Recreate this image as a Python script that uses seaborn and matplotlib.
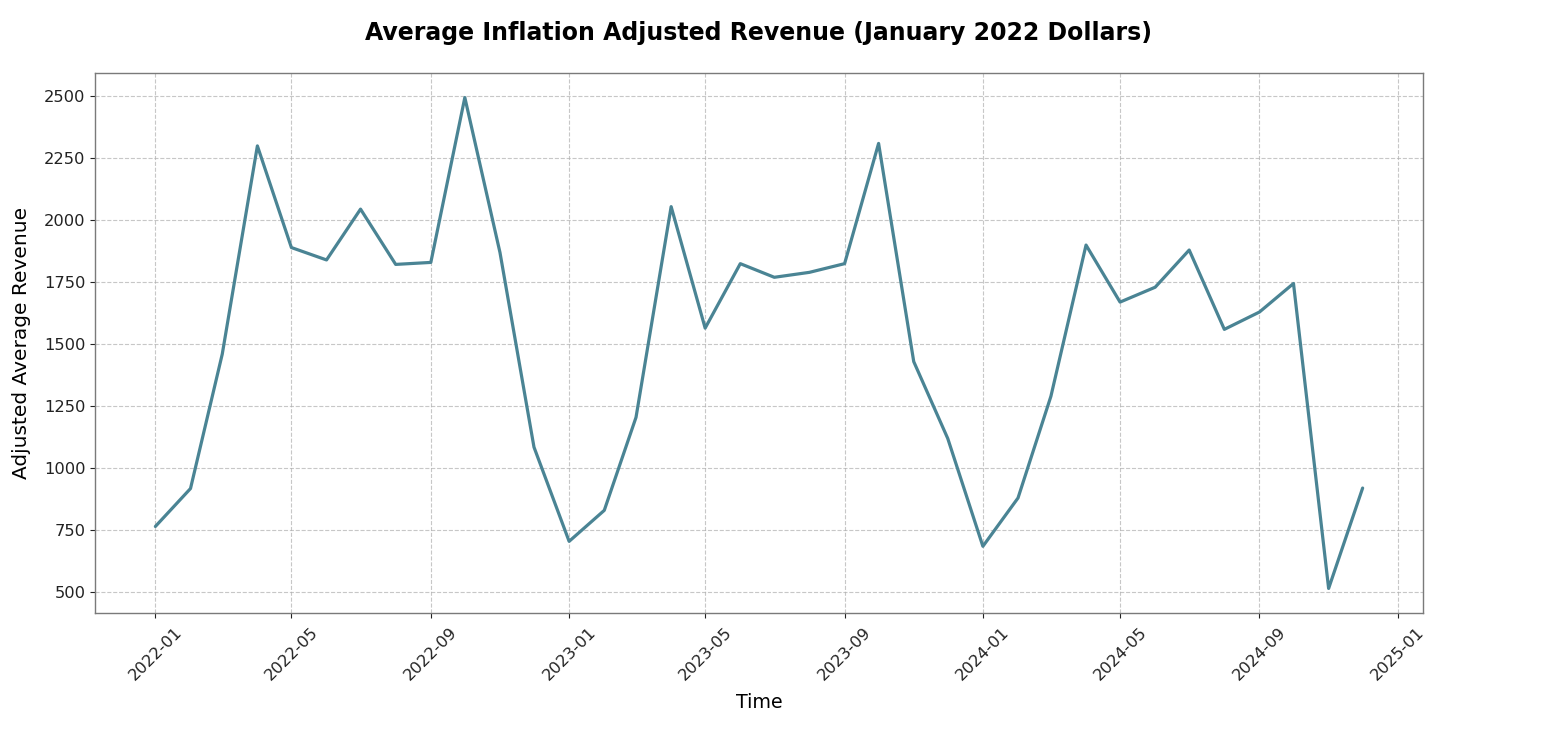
import matplotlib
matplotlib.use("Agg")
import matplotlib.pyplot as plt
import matplotlib.dates as mdates
import seaborn as sns
import pandas as pd

months = pd.date_range("2022-01-01", "2024-12-01", freq="MS")
revenue = [765, 918, 1460, 2300, 1890, 1840, 2045, 1822, 1830, 2495, 1870, 1085,
           705, 830, 1205, 2055, 1565, 1825, 1770, 1790, 1825, 2310, 1430, 1120,
           685, 880, 1290, 1900, 1670, 1730, 1880, 1560, 1630, 1745, 515, 920]

df = pd.DataFrame({"Time": months, "Adjusted Average Revenue": revenue})

sns.set_style("ticks")
plt.rcParams['font.family'] = ['DejaVu Sans']
plt.rcParams['text.color'] = 'black'
plt.rcParams['axes.labelcolor'] = 'black'
plt.rcParams['xtick.color'] = 'black'
plt.rcParams['ytick.color'] = 'black'

fig = plt.figure(figsize=(15.46, 7.54), dpi=100)
ax = fig.add_axes([95/1546, 1 - 613/754, (1423-95)/1546, (613-73)/754])

sns.lineplot(data=df, x="Time", y="Adjusted Average Revenue", ax=ax,
             color="#4a8494", linewidth=2.3)

ax.xaxis.set_major_locator(mdates.MonthLocator(bymonth=[1, 5, 9]))
ax.xaxis.set_major_formatter(mdates.DateFormatter("%Y-%m"))
ax.set_yticks([500, 750, 1000, 1250, 1500, 1750, 2000, 2250, 2500])
plt.setp(ax.get_xticklabels(), rotation=45)
ax.tick_params(labelsize=11.7, colors="#222222")
ax.tick_params(axis="x", pad=5)
ax.grid(True, linestyle="--", color="#b0b0b0", alpha=0.7)
for s in ax.spines.values():
    s.set_visible(True)
    s.set_color("#7a7a7a")
    s.set_linewidth(1.0)

ax.set_xlabel("Time", fontsize=13.7, labelpad=7)
ax.set_ylabel("Adjusted Average Revenue", fontsize=14.5, labelpad=9)
fig.suptitle("Average Inflation Adjusted Revenue (January 2022 Dollars)",
             fontsize=17, fontweight="bold", x=(365+1152)/2/1546, y=1 - 33/754, va="center")

fig.savefig("out.png", dpi=100)
